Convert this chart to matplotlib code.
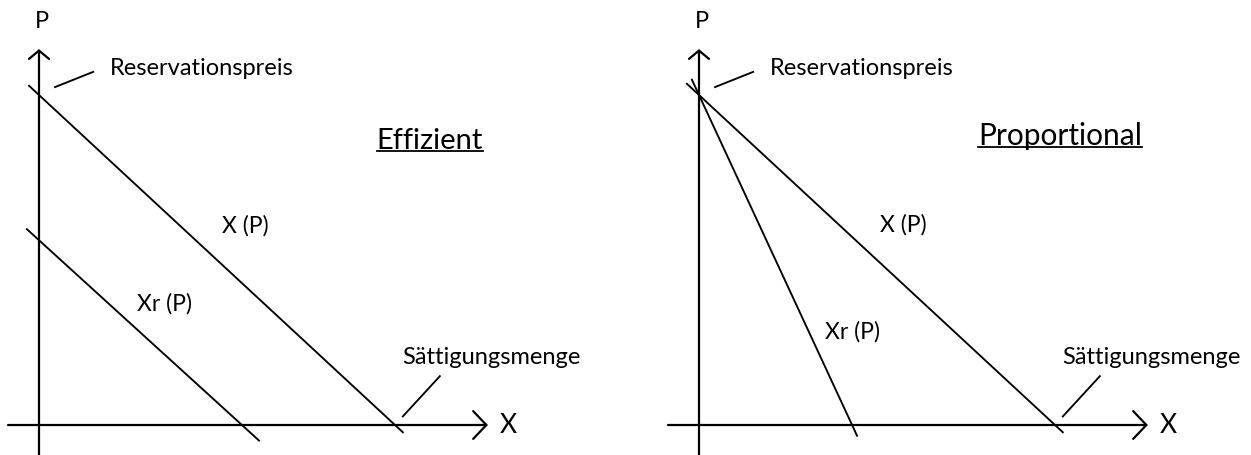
import matplotlib
matplotlib.use('Agg')
import matplotlib.pyplot as plt

plt.rcParams['font.family'] = ['Lato', 'DejaVu Sans']

W, H = 1251, 456
PX_X, PX_Y = 35.6, 33.0        # pixels per unit on each axis
ORIGINS = [(39, 426), (699, 426)]

# demand: reservation price and saturation quantity
RES_PRICE = 10.0
SAT_QTY = 10.0

titles = ['Effizient', 'Proportional']
# residual demand intercepts (price, quantity) per rationing rule
xr_price = [5.6, 10.0]
xr_qty = [5.7, 4.3]
# where the drawn segments start/end on the quantity axis
demand_span = [(-0.28, 10.22), (-0.34, 10.22)]
xr_span = [(-0.34, 6.18), (-0.20, 4.44)]
# label anchors (x, p) for X(P) and Xr(P)
xp_label = [(5.14, 6.06), (5.08, 6.09)]
xrp_label = [(2.75, 3.70), (3.54, 2.85)]
title_pos = [(9.49, 8.39), (7.84, 8.52)]
title_size = [21, 21.5]


def line_p(p0, x0, x):
    return p0 * (1 - x / x0)


def draw_panel(fig, ax, i):
    lw_axis = 1.6
    lw = 1.35
    # axes with arrows
    ax.annotate('', xy=(12.61, 0), xytext=(-0.87, 0),
                arrowprops=dict(arrowstyle='->,head_length=0.95,head_width=1.0',
                                lw=lw_axis, color='black', shrinkA=0, shrinkB=0,
                                mutation_scale=10))
    ax.annotate('', xy=(0, 11.39), xytext=(0, -1.0),
                arrowprops=dict(arrowstyle='->,head_length=0.6,head_width=0.72',
                                lw=lw_axis, color='black', shrinkA=0, shrinkB=0,
                                mutation_scale=10))
    ax.text(0.08, 12.25, 'P', fontsize=17, ha='center', va='center')
    ax.text(13.17, 0, 'X', fontsize=19, ha='center', va='center')

    # demand X(P)
    xs = list(demand_span[i])
    ax.plot(xs, [line_p(RES_PRICE, SAT_QTY, x) for x in xs], color='black', lw=lw)
    # residual demand Xr(P)
    xs = list(xr_span[i])
    ax.plot(xs, [line_p(xr_price[i], xr_qty[i], x) for x in xs], color='black', lw=lw)

    ax.text(*xp_label[i], 'X (P)', fontsize=16.5, ha='left', va='center')
    ax.text(*xrp_label[i], 'Xr (P)', fontsize=16.5, ha='left', va='center')

    # annotations
    ax.plot([0.45, 1.52], [10.24, 10.70], color='black', lw=lw)
    ax.text(1.99, 10.64, 'Reservationspreis', fontsize=17, ha='left', va='baseline')
    ax.plot([11.26, 10.22], [1.48, 0.26], color='black', lw=lw)
    ax.text(10.2, 1.87, 'Sättigungsmenge', fontsize=17, ha='left', va='baseline')

    t = ax.text(*title_pos[i], titles[i], fontsize=title_size[i], ha='left', va='baseline')
    fig.canvas.draw()
    bb = t.get_window_extent().transformed(ax.transData.inverted())
    yu = title_pos[i][1] - 0.1
    ax.plot([bb.x0, bb.x1], [yu, yu], color='black', lw=1.3)


def main():
    fig = plt.figure(figsize=(W / 100, H / 100), dpi=100)
    halves = [(0, 625), (625, W)]
    for i, ((ox, oy), (x0, x1)) in enumerate(zip(ORIGINS, halves)):
        ax = fig.add_axes([x0 / W, 0, (x1 - x0) / W, 1])
        ax.set_xlim((x0 - ox) / PX_X, (x1 - ox) / PX_X)
        ax.set_ylim((oy - H) / PX_Y, oy / PX_Y)
        ax.axis('off')
        draw_panel(fig, ax, i)
    fig.savefig('out.png', dpi=100)


if __name__ == '__main__':
    main()
